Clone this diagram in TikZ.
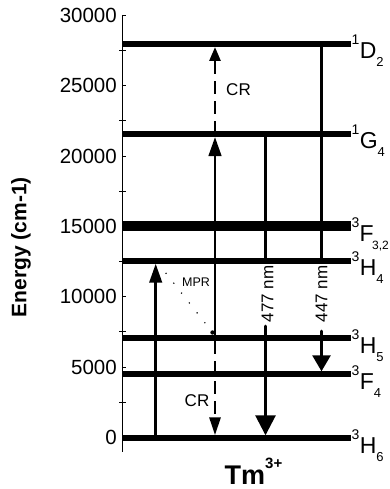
\documentclass[tikz,border=0pt]{standalone}
\usepackage{fontspec}
\setmainfont{Liberation Sans}
\usetikzlibrary{arrows.meta}
\newcommand\termlab[4][0pt]{\fontsize{23}{23}\selectfont\raisebox{14pt}{\fontsize{14}{14}\selectfont #2}\kern0.3pt #3\kern#1\raisebox{-8pt}{\fontsize{13}{13}\selectfont #4}}
\begin{document}
\begin{tikzpicture}[x=1pt,y=-1pt,
  axisline/.style={line width=1pt},
  levelbar/.style={line width=6pt},
  thickbar/.style={line width=10.5pt},
  vline/.style={line width=2.7pt},
  tipup/.style={-{Triangle[length=19pt,width=12.5pt]}},
  tipsmall/.style={-{Triangle[length=14pt,width=11pt]}},
  tipdown/.style={-{Triangle[length=18pt,width=11pt]}},
  tipwide/.style={-{Triangle[length=20pt,width=20pt]}},
  tipwideb/.style={-{Triangle[length=16pt,width=18pt]}},
  dashline/.style={vline,dash pattern=on 13pt off 7pt},
  ticklab/.style={anchor=east,inner sep=0pt,font=\fontsize{20.5}{20.5}\selectfont},
  termnode/.style={anchor=base west,inner sep=0pt},
  crlab/.style={inner sep=0pt,font=\fontsize{17}{17}\selectfont},
  nmlab/.style={rotate=90,inner xsep=3.5pt,inner ysep=0pt,font=\fontsize{17}{17}\selectfont}
]
\useasboundingbox (0,0) rectangle (390,489);

% axis
\coordinate (axT) at (122.7,15);
\coordinate (axB) at (122.7,452);
\draw[axisline] (axT) -- (axB);
\foreach \k/\v in {0/0,1/5000,2/10000,3/15000,4/20000,5/25000,6/30000}{
  \draw[axisline] (122.7,{437.5-70.35*\k}) -- ++(3,0);
  \node[ticklab] (tl\k) at (117,{437.5-70.35*\k}) {\v};
}
\foreach \k in {0,...,5}{
  \draw[axisline] (119.3,{437.5-70.35*\k-35.18}) -- (126,{437.5-70.35*\k-35.18});
}
\node[rotate=90,inner sep=0pt,font=\bfseries\fontsize{21}{21}\selectfont] (ylab) at (21,247) {Energy (cm-1)};

% level coordinates
\coordinate (D2) at (122.7,44);    \coordinate (D2r) at (351,44);
\coordinate (G4) at (122.7,134);   \coordinate (G4r) at (351,134);
\coordinate (F32) at (122.7,226);  \coordinate (F32r) at (351,226);
\coordinate (H4) at (122.7,260.7); \coordinate (H4r) at (351,260.7);
\coordinate (H5) at (122.7,338.3); \coordinate (H5r) at (351,338.3);
\coordinate (F4) at (122.7,374.3); \coordinate (F4r) at (351,374.3);
\coordinate (H6) at (122.7,438.3); \coordinate (H6r) at (351,438.3);

% x positions of transitions
\coordinate (xEx) at (155.7,0);
\coordinate (xCR) at (215,0);
\coordinate (xA) at (265.5,0);
\coordinate (xB) at (321.5,0);

% labels for 477/447
\node[nmlab] (t477) at (267.5,294) {477 nm};
\node[nmlab] (t447) at (321.5,294) {447 nm};

% excitation
\draw[vline,tipup] (xEx |- H6) -- ([yshift=-3pt]xEx |- H4);
% cross relaxation
\draw[vline,tipup] (xCR |- H5) -- ([yshift=-3pt]xCR |- G4);
\draw[dashline,tipsmall] (xCR |- G4) -- ([yshift=-3pt]xCR |- D2);
\draw[dashline,tipdown] ([yshift=-3pt]xCR |- H5) -- ([yshift=3pt]xCR |- H6);
% 477 nm
\draw[vline] (xA |- G4) -- (xA |- H4);
\draw[vline,line cap=round,tipwide] (xA |- t477.west) -- ([yshift=3pt]xA |- H6);
% 447 nm
\draw[vline] (xB |- D2) -- (xB |- H4);
\draw[vline,line cap=round,tipwideb] ([yshift=-5pt]xB |- t447.west) -- ([yshift=3pt]xB |- F4);
% MPR
\coordinate (mprA) at (166,273.3);
\coordinate (mprB) at (212.5,332.5);
\draw[line width=1.6pt,line cap=round,dash pattern=on 0pt off 12.58pt] (mprA) -- (mprB);
\fill (mprB) circle (2.2pt);
\node[inner sep=0pt,font=\fontsize{12.5}{12.5}\selectfont] (mprlab) at (196,282) {MPR};
\node[crlab] (cr1) at (238.5,90) {CR};
\node[crlab] (cr2) at (197,401) {CR};

% levels
\draw[levelbar] (D2) -- (D2r);
\draw[levelbar] (G4) -- (G4r);
\draw[thickbar] (F32) -- (F32r);
\draw[levelbar] (H4) -- (H4r);
\draw[levelbar] (H5) -- (H5r);
\draw[levelbar] (F4) -- (F4r);
\draw[levelbar] (H6) -- (H6r);

% term labels
\node[termnode] (lD2) at ([xshift=0.5pt,yshift=-15pt]D2r) {\termlab{1}{D}{2}};
\node[termnode] (lG4) at ([xshift=0.5pt,yshift=-15pt]G4r) {\termlab{1}{G}{4}};
\node[termnode] (lF32) at ([xshift=0.3pt,yshift=-15pt]F32r) {\termlab[-1.5pt]{3}{F}{\fontsize{12}{12}\selectfont 3,2}};
\node[termnode] (lH4) at ([xshift=0.5pt,yshift=-15pt]H4r) {\termlab{3}{H}{4}};
\node[termnode] (lH5) at ([xshift=0.5pt,yshift=-15pt]H5r) {\termlab{3}{H}{5}};
\node[termnode] (lF4) at ([xshift=0.5pt,yshift=-15pt]F4r) {\termlab{3}{F}{4}};
\node[termnode] (lH6) at ([xshift=0.5pt,yshift=-15pt]H6r) {\termlab{3}{H}{6}};

% ion label
\node[anchor=base west,inner sep=0pt] (ion) at (224.5,484) {\bfseries\fontsize{27}{27}\selectfont Tm\raisebox{16pt}{\fontsize{15}{15}\selectfont 3+}};
\end{tikzpicture}
\end{document}
